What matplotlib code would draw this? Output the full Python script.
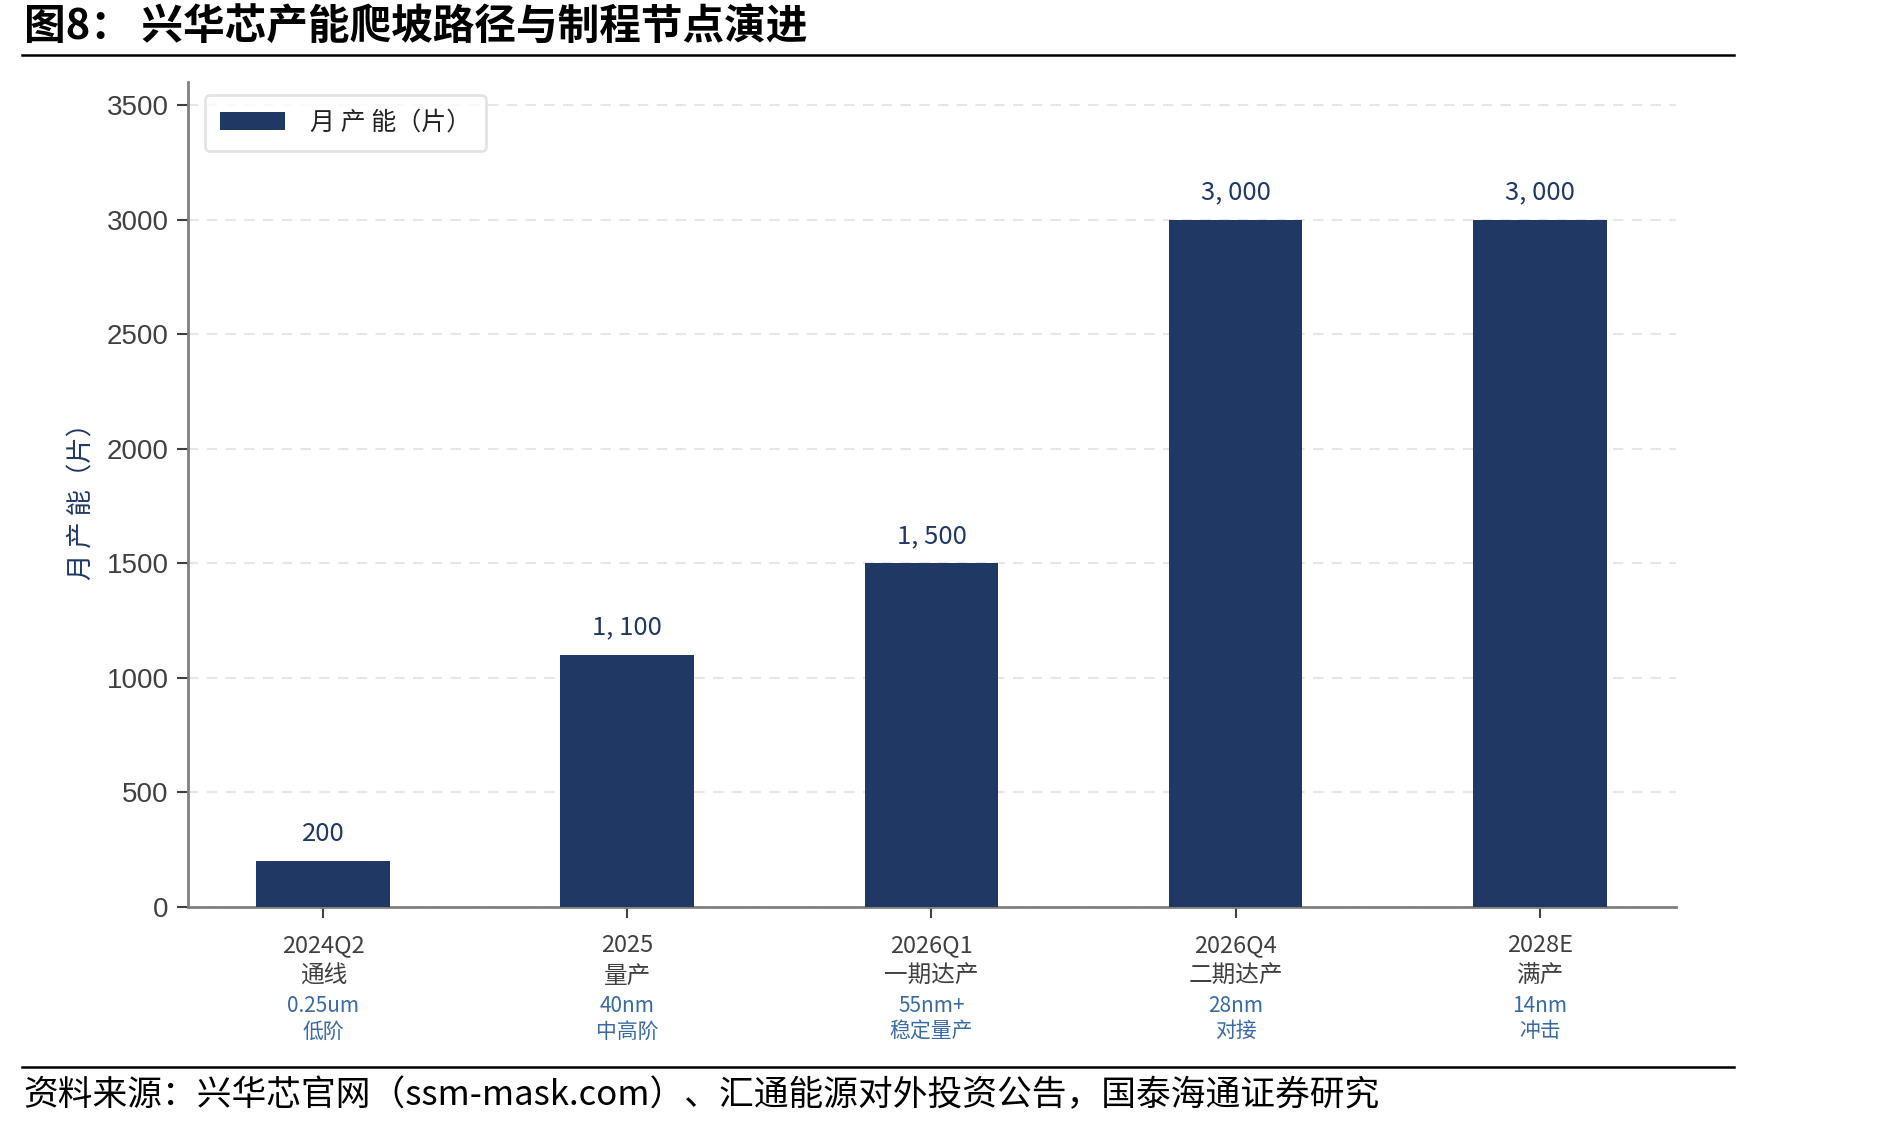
import matplotlib
matplotlib.use("Agg")
import matplotlib.pyplot as plt
from matplotlib.lines import Line2D

plt.rcParams['font.family'] = ['Noto Sans CJK SC', 'DejaVu Sans']

# data
periods = ["2024Q2", "2025", "2026Q1", "2026Q4", "2028E"]
stages = ["通线", "量产", "一期达产", "二期达产", "满产"]
nodes = ["0.25um", "40nm", "55nm+", "28nm", "14nm"]
node_notes = ["低阶", "中高阶", "稳定量产", "对接", "冲击"]
capacity = [200, 1100, 1500, 3000, 3000]
y_ticks = [0, 500, 1000, 1500, 2000, 2500, 3000, 3500]

navy = "#203864"
grey_txt = "#404040"
blue_txt = "#3a6aa5"

fig = plt.figure(figsize=(18.89, 11.28), dpi=100)
ax = fig.add_axes([0.0995, 0.196, 0.788, 0.731])

x = list(range(len(periods)))
bars = ax.bar(x, capacity, width=0.44, color=navy, label="月产能（片）", zorder=3)

for xi, v in zip(x, capacity):
    ax.text(xi, v + 62, f"{v:,}".replace(",", ", "), ha="center", va="bottom",
            fontsize=18.5, color=navy)

ax.set_xlim(-0.445, 4.45)
ax.set_ylim(0, 3600)
ax.set_yticks(y_ticks)
ax.set_yticklabels([str(t) for t in y_ticks], family=["Liberation Sans", "DejaVu Sans"],
                   fontsize=20, color=grey_txt)
ax.set_xticks(x)
ax.set_xticklabels([""] * len(x))
ax.tick_params(axis="both", length=8, width=1.5, color="#404040")
ax.tick_params(axis="y", pad=6)

# multi-line x labels
trans = ax.get_xaxis_transform()
for xi in x:
    ax.text(xi, -0.047, periods[xi], transform=trans, ha="center", va="center",
            fontsize=17, color=grey_txt)
    ax.text(xi, -0.084, stages[xi], transform=trans, ha="center", va="center",
            fontsize=17, color=grey_txt)
    ax.text(xi, -0.120, nodes[xi], transform=trans, ha="center", va="center",
            fontsize=15, color=blue_txt)
    ax.text(xi, -0.151, node_notes[xi], transform=trans, ha="center", va="center",
            fontsize=15, color=blue_txt)

ax.yaxis.grid(True, linestyle=(0, (5, 4)), color="#e6e6e6", linewidth=1.5, zorder=0)
ax.set_axisbelow(True)
for s in ["top", "right"]:
    ax.spines[s].set_visible(False)
for s in ["left", "bottom"]:
    ax.spines[s].set_color("#808080")
    ax.spines[s].set_linewidth(2)

ax.set_ylabel("月 产 能（片）", fontsize=19, color=navy, labelpad=8)

leg = ax.legend(loc="upper left", bbox_to_anchor=(0.003, 1.0), fontsize=18,
                frameon=True, fancybox=True, edgecolor="#dddddd",
                handlelength=2.6, handleheight=0.7, borderpad=0.6, handletextpad=1.0)
leg.get_frame().set_linewidth(2)
leg.get_texts()[0].set_text("月 产 能（片）")
for t in leg.get_texts():
    t.set_color("#222222")

# title and footer
fig.text(0.0125, 0.976, "图8： 兴华芯产能爬坡路径与制程节点演进", fontsize=30,
         fontweight="bold", ha="left", va="center", color="black")
fig.add_artist(Line2D([0.0116, 0.918], [0.951, 0.951], color="black", linewidth=1.8))
fig.add_artist(Line2D([0.0116, 0.918], [0.054, 0.054], color="black", linewidth=1.8))
fig.text(0.0125, 0.029, "资料来源：兴华芯官网（ssm-mask.com）、汇通能源对外投资公告，国泰海通证券研究",
         fontsize=25, ha="left", va="center", color="black")

fig.savefig("out.png", dpi=100)
